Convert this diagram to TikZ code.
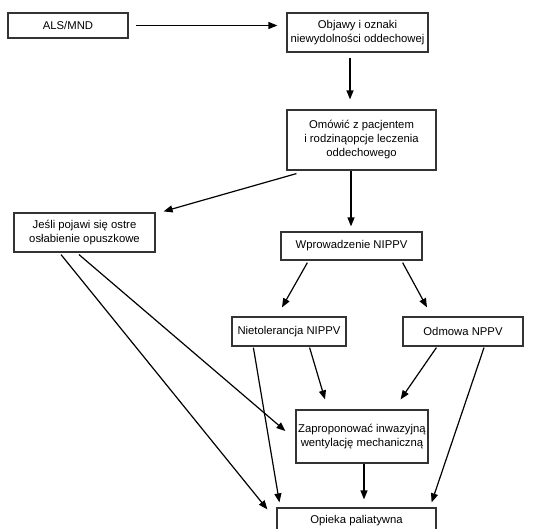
\documentclass[tikz,border=0pt]{standalone}
\usepackage{fontspec}
\setmainfont{Liberation Sans}
\usetikzlibrary{arrows.meta}
\begin{document}
\begin{tikzpicture}[x=1pt,y=-1pt,
  box/.style={draw=black!80, line width=1.2pt, rectangle, inner sep=1pt, align=center,
    font=\fontsize{11.3}{14}\selectfont, text=black},
  arr/.style={line width=1.2pt, draw=black, -{Triangle[length=9pt,width=7pt]}}]
\clip (0,0) rectangle (554,528);
\fill[white] (0,0) rectangle (554,528);
\node[box, minimum width=120pt, minimum height=25pt] (als) at (68,25.5) {ALS/MND};
\node[box, minimum width=141pt, minimum height=39pt] (obj) at (357.5,32.5) {Objawy i oznaki\\niewydolności oddechowej};
\node[box, minimum width=149pt, minimum height=60pt] (omo) at (361.5,140) {Omówić z pacjentem\\i rodzinąopcje leczenia\\oddechowego};
\node[box, minimum width=141pt, minimum height=39pt] (jes) at (84.5,232.5) {Jeśli pojawi się ostre\\osłabienie opuszkowe};
\node[box, minimum width=141pt, minimum height=28pt] (wpr) at (351.5,246) {Wprowadzenie NIPPV};
\node[box, minimum width=114pt, minimum height=29pt] (nie) at (289,331.5) {Nietolerancja NIPPV};
\node[box, minimum width=120pt, minimum height=29pt] (odm) at (463,331.5) {Odmowa NPPV};
\node[box, minimum width=132pt, minimum height=53pt] (zap) at (362,436.5) {Zaproponować inwazyjną\\wentylację mechaniczną};
\node[box, minimum width=159pt, minimum height=26pt] (opi) at (356.5,521) {Opieka paliatywna};

\draw[arr] ([xshift=7pt]als.east) -- ([xshift=-9pt]als.east -| obj.west);
\draw[arr] ([xshift=-7.5pt,yshift=-5pt]obj.south) -- ([xshift=-11.5pt,yshift=10pt]omo.north);
\draw[arr] ([xshift=10pt,yshift=-3pt]omo.south west) -- ([xshift=8pt,yshift=1pt]jes.north east);
\draw[arr] ([xshift=-10.5pt]omo.south) -- ([xshift=-0.5pt,yshift=5pt]wpr.north);
\draw[arr] ([xshift=27pt,yshift=-2pt]wpr.south west) -- ([xshift=-7pt,yshift=9pt]nie.north);
\draw[arr] ([xshift=-20pt,yshift=-2pt]wpr.south east) -- ([xshift=-36pt,yshift=9pt]odm.north);
\draw[arr] ([xshift=-5.5pt,yshift=-2pt]jes.south) -- ([xshift=-10pt,yshift=5.5pt]zap.west);
\draw[arr] ([xshift=-23.5pt,yshift=-2pt]jes.south) -- ([xshift=-9pt,yshift=-2pt]opi.north west);
\draw[arr] ([xshift=22pt,yshift=-1pt]nie.south west) -- ([xshift=3pt,yshift=5pt]opi.north west);
\draw[arr] ([xshift=-37pt,yshift=-1pt]nie.south east) -- ([xshift=-37pt,yshift=10pt]zap.north);
\draw[arr] ([xshift=34pt,yshift=-1pt]odm.south west) -- ([xshift=-28pt,yshift=10pt]zap.north east);
\draw[arr] ([xshift=21pt,yshift=-1pt]odm.south) -- ([xshift=-5pt,yshift=5pt]opi.north east);
\draw[arr] ([xshift=2pt]zap.south) -- ([xshift=7.5pt,yshift=8pt]opi.north);
\end{tikzpicture}
\end{document}
